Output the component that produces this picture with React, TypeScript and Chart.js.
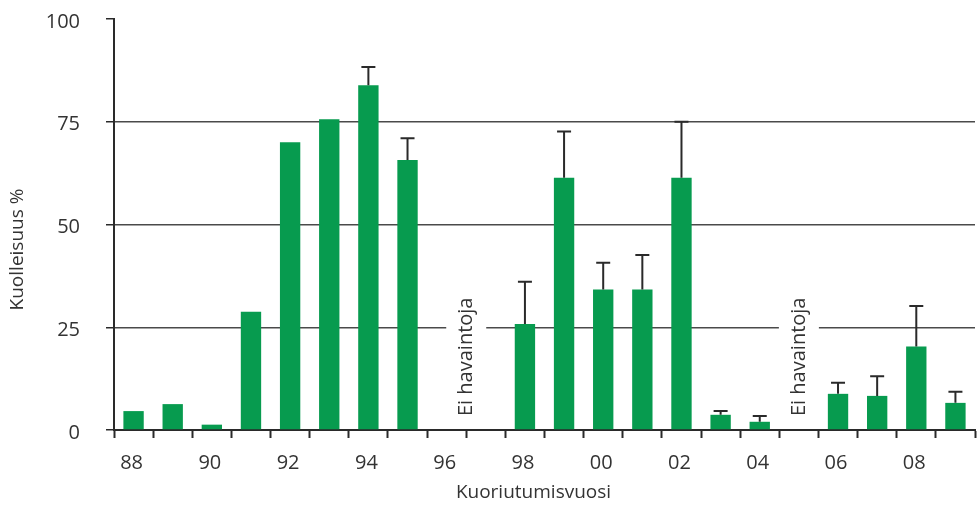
import React, { useEffect, useRef } from "react";
import { Chart, registerables } from "chart.js";

Chart.register(...registerables);

const years = ["88","89","90","91","92","93","94","95","96","97","98","99","00","01","02","03","04","05","06","07","08","09"];
const mortality = [4.6, 6.3, 1.3, 28.8, 70, 75.6, 83.9, 65.7, 0, 0, 25.8, 61.4, 34.2, 34.2, 61.4, 3.7, 2.0, null, 8.8, 8.3, 20.3, 6.6];
const errorPlus = [null, null, null, null, null, null, 4.4, 5.3, null, null, 10.3, 11.2, 6.5, 8.4, 13.6, 0.9, 1.4, null, 2.7, 4.8, 9.9, 2.7];
const yTicks = [0, 25, 50, 75, 100];
const noteText = "Ei havaintoja";
const yTitle = "Kuolleisuus %";
const xTitle = "Kuoriutumisvuosi";
// note positions as category positions (fractional index)
const notePositions = [8.5, 17];

const FONT = "'Open Sans', 'DejaVu Sans', sans-serif";
const TEXT = "#333333";

const errorBarPlugin = {
  id: "errorBars",
  afterDatasetsDraw(chart: any) {
    const ctx = chart.ctx;
    const x = chart.scales.x;
    const y = chart.scales.y;
    ctx.save();
    ctx.strokeStyle = "#2a2a2a";
    ctx.lineWidth = 2;
    mortality.forEach((v, i) => {
      const e = errorPlus[i];
      if (v == null || e == null) return;
      const px = x.getPixelForValue(i);
      const y0 = y.getPixelForValue(v);
      const y1 = y.getPixelForValue(v + e);
      ctx.beginPath();
      ctx.moveTo(px, y0);
      ctx.lineTo(px, y1);
      ctx.moveTo(px - 7, y1);
      ctx.lineTo(px + 7, y1);
      ctx.stroke();
    });
    ctx.restore();
  },
};

const notePlugin = {
  id: "notes",
  beforeDatasetsDraw(chart: any) {
    const ctx = chart.ctx;
    const x = chart.scales.x;
    const y = chart.scales.y;
    ctx.save();
    notePositions.forEach((p) => {
      const i0 = Math.floor(p);
      const frac = p - i0;
      const a = x.getPixelForValue(i0);
      const b = x.getPixelForValue(Math.min(i0 + 1, years.length - 1));
      const px = a + (b - a) * frac;
      ctx.fillStyle = "#ffffff";
      ctx.fillRect(px - 20, y.getPixelForValue(28), 40, y.getPixelForValue(22) - y.getPixelForValue(28));
      ctx.save();
      ctx.translate(px, 0);
      ctx.rotate(-Math.PI / 2);
      ctx.fillStyle = TEXT;
      ctx.font = `20px ${FONT}`;
      ctx.textAlign = "left";
      ctx.textBaseline = "middle";
      ctx.fillText(noteText, -416, 0);
      ctx.restore();
    });
    ctx.restore();
  },
};

const titlePlugin = {
  id: "titles",
  afterDraw(chart: any) {
    const ctx = chart.ctx;
    const area = chart.chartArea;
    ctx.save();
    ctx.fillStyle = TEXT;
    ctx.font = `19px ${FONT}`;
    ctx.textAlign = "center";
    ctx.textBaseline = "middle";
    ctx.fillText(xTitle, (area.left + area.right) / 2 - 11, chart.height - 13);
    ctx.translate(18, (area.top + area.bottom) / 2 + 25);
    ctx.rotate(-Math.PI / 2);
    ctx.fillText(yTitle, 0, 0);
    ctx.restore();
  },
};

export default function App() {
  const ref = useRef<HTMLCanvasElement>(null);
  useEffect(() => {
    if (!ref.current) return;
    const chart = new Chart(ref.current, {
      type: "bar",
      data: {
        labels: years,
        datasets: [
          {
            data: mortality as any,
            backgroundColor: "#079b4f",
            borderWidth: 0,
            barPercentage: 0.52,
            categoryPercentage: 1,
          },
        ],
      },
      options: {
        animation: false,
        responsive: false,
        maintainAspectRatio: false,
        layout: { padding: { top: 19, right: 2, left: 0, bottom: 0 } },
        plugins: { legend: { display: false }, tooltip: { enabled: false } },
        scales: {
          x: {
            offset: true,
            border: { display: true, color: "#2a2a2a", width: 2 },
            grid: {
              offset: true,
              drawOnChartArea: false,
              drawTicks: true,
              tickLength: 8,
              tickColor: "#2a2a2a",
              tickWidth: 2,
            },
            ticks: {
              autoSkip: false,
              maxRotation: 0,
              padding: 13,
              labelOffset: -2,
              color: TEXT,
              font: { family: FONT, size: 20 },
              callback: (v: any, i: number) => (i % 2 === 0 ? years[i] : ""),
            },
            title: { display: false },
            afterFit: (s: any) => { s.height = 76; s.paddingLeft = 0; s.paddingRight = 0; },
          },
          y: {
            min: 0,
            max: 100,
            border: { display: true, color: "#2a2a2a", width: 2 },
            afterBuildTicks: (s: any) => { s.ticks = yTicks.map((v) => ({ value: v })); },
            grid: {
              color: (c: any) => (c.tick && (c.tick.value === 100 || c.tick.value === 0) ? "rgba(0,0,0,0)" : "#4a4a4a"),
              lineWidth: 1.5,
              tickLength: 8,
              tickColor: "#2a2a2a",
              tickWidth: 1.5,
            },
            ticks: {
              padding: 26,
              labelOffset: 3,
              color: TEXT,
              font: { family: FONT, size: 20 },
            },
            title: { display: false },
            afterFit: (s: any) => { s.width = 114; s.paddingTop = 0; s.paddingBottom = 0; },
          },
        },
      },
      plugins: [notePlugin, errorBarPlugin, titlePlugin],
    });
    return () => chart.destroy();
  }, []);
  return (
    <div style={{ position: "fixed", left: 0, top: 0, width: 977, height: 506 }}>
      <canvas ref={ref} width={977} height={506} style={{ width: 977, height: 506 }} />
    </div>
  );
}
